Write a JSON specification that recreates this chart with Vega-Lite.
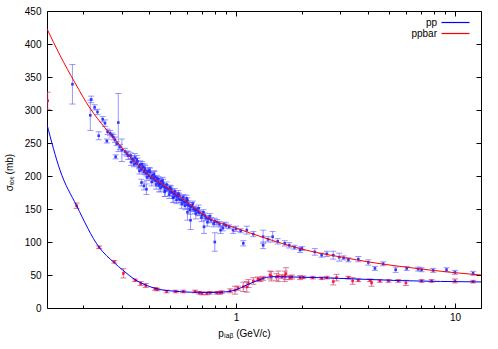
{
  "$schema": "https://vega.github.io/schema/vega-lite/v6.json",
  "width": 434,
  "height": 297,
  "autosize": "none",
  "padding": {"left": 47, "top": 11, "right": 17, "bottom": 41},
  "background": "white",
  "config": {
    "view": {"stroke": "#000000", "strokeWidth": 1},
    "font": "Liberation Sans",
    "axis": {
      "grid": false, "domain": false,
      "labelFont": "Liberation Sans", "labelFontSize": 10, "labelColor": "#000000",
      "tickColor": "#000000", "tickWidth": 1,
      "titleFont": "Liberation Sans", "titleFontSize": 10, "titleFontWeight": "normal", "titleColor": "#000000"
    },
    "legend": {"labelFont": "Liberation Sans", "labelFontSize": 10, "labelColor": "#000000"}
  },
  "datasets": {
    "fitbar": [
      {"p": 0.137, "v": 423, "s": "ppbar"}, {"p": 0.157, "v": 383, "s": "ppbar"}, {"p": 0.184, "v": 341, "s": "ppbar"},
      {"p": 0.215, "v": 303, "s": "ppbar"}, {"p": 0.252, "v": 273, "s": "ppbar"}, {"p": 0.289, "v": 250, "s": "ppbar"},
      {"p": 0.328, "v": 229, "s": "ppbar"}, {"p": 0.364, "v": 214, "s": "ppbar"}, {"p": 0.405, "v": 200, "s": "ppbar"},
      {"p": 0.464, "v": 187, "s": "ppbar"}, {"p": 0.555, "v": 169, "s": "ppbar"}, {"p": 0.617, "v": 157, "s": "ppbar"},
      {"p": 0.685, "v": 145, "s": "ppbar"}, {"p": 0.785, "v": 133, "s": "ppbar"}, {"p": 0.939, "v": 124, "s": "ppbar"},
      {"p": 1.0, "v": 121, "s": "ppbar"}, {"p": 1.328, "v": 107, "s": "ppbar"}, {"p": 1.96, "v": 90, "s": "ppbar"},
      {"p": 2.42, "v": 83, "s": "ppbar"}, {"p": 2.985, "v": 77.5, "s": "ppbar"}, {"p": 4.09, "v": 69.5, "s": "ppbar"},
      {"p": 5.61, "v": 63, "s": "ppbar"}, {"p": 7.69, "v": 57.5, "s": "ppbar"}, {"p": 10, "v": 53.5, "s": "ppbar"},
      {"p": 13.15, "v": 50, "s": "ppbar"}
    ],
    "fitpp": [
      {"p": 0.137, "v": 278, "s": "pp"}, {"p": 0.157, "v": 209, "s": "pp"}, {"p": 0.187, "v": 155, "s": "pp"},
      {"p": 0.237, "v": 92, "s": "pp"}, {"p": 0.277, "v": 69, "s": "pp"}, {"p": 0.305, "v": 57, "s": "pp"},
      {"p": 0.346, "v": 43, "s": "pp"}, {"p": 0.392, "v": 34, "s": "pp"}, {"p": 0.449, "v": 28, "s": "pp"},
      {"p": 0.5, "v": 26, "s": "pp"}, {"p": 0.617, "v": 24, "s": "pp"}, {"p": 0.761, "v": 23.5, "s": "pp"},
      {"p": 0.9, "v": 24.5, "s": "pp"}, {"p": 1.0, "v": 27.5, "s": "pp"}, {"p": 1.12, "v": 35, "s": "pp"},
      {"p": 1.287, "v": 43, "s": "pp"}, {"p": 1.38, "v": 46.5, "s": "pp"}, {"p": 1.52, "v": 47.5, "s": "pp"},
      {"p": 1.82, "v": 47, "s": "pp"}, {"p": 2.69, "v": 45.5, "s": "pp"}, {"p": 5.61, "v": 41.5, "s": "pp"},
      {"p": 13.15, "v": 39.5, "s": "pp"}
    ],
    "up": [
      {"p": 0.179, "v": 339, "e": 30}, {"p": 0.218, "v": 316, "e": 5}, {"p": 0.216, "v": 292, "e": 23},
      {"p": 0.226, "v": 304, "e": 4}, {"p": 0.233, "v": 297, "e": 4}, {"p": 0.236, "v": 261, "e": 6},
      {"p": 0.246, "v": 286, "e": 4}, {"p": 0.252, "v": 280, "e": 5}, {"p": 0.257, "v": 253, "e": 3},
      {"p": 0.259, "v": 267, "e": 4}, {"p": 0.266, "v": 265, "e": 4}, {"p": 0.271, "v": 262, "e": 3},
      {"p": 0.275, "v": 259, "e": 4}, {"p": 0.29, "v": 281, "e": 44}, {"p": 0.28, "v": 255, "e": 4},
      {"p": 0.285, "v": 249, "e": 3}, {"p": 0.282, "v": 229, "e": 3}, {"p": 0.301, "v": 239, "e": 17},
      {"p": 0.295, "v": 244, "e": 4}, {"p": 0.311, "v": 237, "e": 5}, {"p": 0.317, "v": 234, "e": 4},
      {"p": 0.322, "v": 231, "e": 6},
      {"p": 0.33, "v": 231, "e": 4}, {"p": 0.335, "v": 226, "e": 5}, {"p": 0.34, "v": 224, "e": 3},
      {"p": 0.345, "v": 228, "e": 6}, {"p": 0.35, "v": 219, "e": 4}, {"p": 0.355, "v": 222, "e": 5},
      {"p": 0.36, "v": 214, "e": 3}, {"p": 0.365, "v": 217, "e": 6}, {"p": 0.37, "v": 210, "e": 4},
      {"p": 0.37, "v": 190, "e": 5}, {"p": 0.375, "v": 214, "e": 5}, {"p": 0.38, "v": 206, "e": 3},
      {"p": 0.38, "v": 185, "e": 6}, {"p": 0.385, "v": 209, "e": 7}, {"p": 0.39, "v": 204, "e": 4},
      {"p": 0.39, "v": 180, "e": 8}, {"p": 0.395, "v": 207, "e": 5}, {"p": 0.4, "v": 200, "e": 4},
      {"p": 0.405, "v": 206, "e": 6}, {"p": 0.41, "v": 197, "e": 3}, {"p": 0.415, "v": 201, "e": 5},
      {"p": 0.42, "v": 195, "e": 4}, {"p": 0.425, "v": 199, "e": 8}, {"p": 0.43, "v": 193, "e": 5},
      {"p": 0.435, "v": 197, "e": 4}, {"p": 0.44, "v": 190, "e": 6}, {"p": 0.445, "v": 186, "e": 10},
      {"p": 0.45, "v": 188, "e": 4}, {"p": 0.455, "v": 192, "e": 5}, {"p": 0.46, "v": 185, "e": 3},
      {"p": 0.465, "v": 189, "e": 6}, {"p": 0.47, "v": 183, "e": 4}, {"p": 0.475, "v": 178, "e": 9},
      {"p": 0.48, "v": 182, "e": 5}, {"p": 0.49, "v": 180, "e": 4}, {"p": 0.5, "v": 176, "e": 6},
      {"p": 0.5, "v": 183, "e": 3}, {"p": 0.51, "v": 175, "e": 5}, {"p": 0.52, "v": 173, "e": 4},
      {"p": 0.52, "v": 168, "e": 8}, {"p": 0.53, "v": 171, "e": 4}, {"p": 0.54, "v": 169, "e": 6},
      {"p": 0.55, "v": 165, "e": 5}, {"p": 0.55, "v": 171, "e": 3}, {"p": 0.56, "v": 164, "e": 4},
      {"p": 0.57, "v": 163, "e": 7}, {"p": 0.58, "v": 160, "e": 4}, {"p": 0.59, "v": 161, "e": 5},
      {"p": 0.6, "v": 157, "e": 6}, {"p": 0.6, "v": 163, "e": 4}, {"p": 0.6, "v": 145, "e": 12},
      {"p": 0.61, "v": 155, "e": 5}, {"p": 0.62, "v": 153, "e": 4}, {"p": 0.62, "v": 133, "e": 14},
      {"p": 0.63, "v": 154, "e": 6}, {"p": 0.64, "v": 150, "e": 4}, {"p": 0.65, "v": 148, "e": 5},
      {"p": 0.66, "v": 149, "e": 3}, {"p": 0.67, "v": 146, "e": 6}, {"p": 0.68, "v": 144, "e": 4},
      {"p": 0.7, "v": 141, "e": 5}, {"p": 0.714, "v": 123, "e": 10}, {"p": 0.72, "v": 140, "e": 4},
      {"p": 0.73, "v": 136, "e": 3}, {"p": 0.75, "v": 135, "e": 5}, {"p": 0.77, "v": 133, "e": 4},
      {"p": 0.8, "v": 100, "e": 14}, {"p": 0.8, "v": 131, "e": 5}, {"p": 0.82, "v": 130, "e": 4},
      {"p": 0.85, "v": 118, "e": 5}, {"p": 0.87, "v": 121, "e": 4}, {"p": 0.88, "v": 127, "e": 3},
      {"p": 0.9, "v": 125, "e": 4}, {"p": 0.93, "v": 123, "e": 3}, {"p": 0.97, "v": 118, "e": 5},
      {"p": 1.0, "v": 120, "e": 4},
      {"p": 0.332, "v": 221, "e": 5}, {"p": 0.342, "v": 218, "e": 4}, {"p": 0.352, "v": 225, "e": 6},
      {"p": 0.362, "v": 208, "e": 5}, {"p": 0.372, "v": 218, "e": 4}, {"p": 0.382, "v": 212, "e": 6},
      {"p": 0.392, "v": 198, "e": 5}, {"p": 0.402, "v": 209, "e": 4}, {"p": 0.412, "v": 191, "e": 6},
      {"p": 0.422, "v": 203, "e": 5}, {"p": 0.432, "v": 187, "e": 7}, {"p": 0.442, "v": 195, "e": 4},
      {"p": 0.452, "v": 182, "e": 6}, {"p": 0.462, "v": 193, "e": 5}, {"p": 0.472, "v": 176, "e": 7},
      {"p": 0.482, "v": 187, "e": 4}, {"p": 0.495, "v": 172, "e": 6}, {"p": 0.505, "v": 180, "e": 5},
      {"p": 0.515, "v": 167, "e": 7}, {"p": 0.525, "v": 177, "e": 4}, {"p": 0.535, "v": 164, "e": 6},
      {"p": 0.545, "v": 173, "e": 5}, {"p": 0.565, "v": 158, "e": 7}, {"p": 0.575, "v": 168, "e": 4},
      {"p": 0.585, "v": 155, "e": 6}, {"p": 0.595, "v": 166, "e": 5}, {"p": 0.615, "v": 149, "e": 7},
      {"p": 0.635, "v": 158, "e": 4}, {"p": 0.655, "v": 143, "e": 8}, {"p": 0.675, "v": 151, "e": 5},
      {"p": 0.695, "v": 137, "e": 6}, {"p": 0.71, "v": 145, "e": 4}, {"p": 0.74, "v": 130, "e": 6},
      {"p": 0.76, "v": 139, "e": 4}, {"p": 0.79, "v": 128, "e": 5}, {"p": 0.84, "v": 127, "e": 4},
      {"p": 1.05, "v": 117, "e": 3}, {"p": 1.08, "v": 98, "e": 4}, {"p": 1.12, "v": 118, "e": 6},
      {"p": 1.2, "v": 112, "e": 4}, {"p": 1.33, "v": 108, "e": 10}, {"p": 1.33, "v": 95, "e": 5},
      {"p": 1.4, "v": 104, "e": 4}, {"p": 1.47, "v": 108, "e": 8}, {"p": 1.55, "v": 101, "e": 4},
      {"p": 1.67, "v": 98, "e": 4}, {"p": 1.75, "v": 95, "e": 4}, {"p": 1.85, "v": 92, "e": 3},
      {"p": 1.96, "v": 88, "e": 4}, {"p": 2.0, "v": 90, "e": 3}, {"p": 2.29, "v": 85, "e": 5},
      {"p": 2.46, "v": 80, "e": 3}, {"p": 2.6, "v": 82, "e": 4}, {"p": 2.78, "v": 80, "e": 6},
      {"p": 2.96, "v": 77, "e": 6}, {"p": 3.1, "v": 76, "e": 3}, {"p": 3.26, "v": 73, "e": 3},
      {"p": 3.62, "v": 74, "e": 4}, {"p": 4.02, "v": 69, "e": 4}, {"p": 4.31, "v": 60, "e": 3},
      {"p": 4.7, "v": 67, "e": 3}, {"p": 5.36, "v": 58, "e": 4}, {"p": 6.02, "v": 60, "e": 3},
      {"p": 6.79, "v": 59, "e": 3}, {"p": 7.04, "v": 58, "e": 3}, {"p": 7.95, "v": 57, "e": 3},
      {"p": 9.15, "v": 58, "e": 3}, {"p": 10, "v": 54, "e": 3}, {"p": 12.1, "v": 52.5, "e": 3}
    ],
    "lo": [
      {"p": 0.138, "v": 314, "e": 13}, {"p": 0.187, "v": 155, "e": 4}, {"p": 0.237, "v": 92, "e": 2},
      {"p": 0.278, "v": 70, "e": 2}, {"p": 0.306, "v": 52.5, "e": 7}, {"p": 0.346, "v": 42, "e": 2},
      {"p": 0.367, "v": 37, "e": 3}, {"p": 0.387, "v": 34, "e": 3}, {"p": 0.427, "v": 29, "e": 2},
      {"p": 0.437, "v": 28, "e": 2}, {"p": 0.482, "v": 25, "e": 2}, {"p": 0.53, "v": 25, "e": 2},
      {"p": 0.575, "v": 25, "e": 2}, {"p": 0.65, "v": 25, "e": 2}, {"p": 0.68, "v": 23, "e": 2},
      {"p": 0.7, "v": 22, "e": 2}, {"p": 0.735, "v": 22, "e": 2}, {"p": 0.76, "v": 23, "e": 2},
      {"p": 0.816, "v": 23, "e": 2}, {"p": 0.845, "v": 23, "e": 2}, {"p": 0.86, "v": 24, "e": 2},
      {"p": 0.94, "v": 26, "e": 3}, {"p": 0.99, "v": 27, "e": 6}, {"p": 1.02, "v": 30, "e": 3},
      {"p": 1.08, "v": 32, "e": 7}, {"p": 1.12, "v": 32, "e": 8}, {"p": 1.14, "v": 37, "e": 6},
      {"p": 1.2, "v": 41, "e": 5}, {"p": 1.26, "v": 44, "e": 3}, {"p": 1.29, "v": 43, "e": 3},
      {"p": 1.33, "v": 45, "e": 3}, {"p": 1.43, "v": 50, "e": 6}, {"p": 1.45, "v": 48, "e": 7},
      {"p": 1.53, "v": 47, "e": 5}, {"p": 1.56, "v": 48, "e": 8}, {"p": 1.62, "v": 47.5, "e": 3},
      {"p": 1.67, "v": 48, "e": 8}, {"p": 1.69, "v": 52, "e": 9}, {"p": 1.76, "v": 46, "e": 3},
      {"p": 1.8, "v": 47, "e": 3}, {"p": 1.96, "v": 46, "e": 3}, {"p": 2.03, "v": 46.5, "e": 2},
      {"p": 2.24, "v": 46, "e": 2}, {"p": 2.46, "v": 45, "e": 2}, {"p": 2.6, "v": 46, "e": 2},
      {"p": 2.78, "v": 40, "e": 5}, {"p": 2.88, "v": 46, "e": 5}, {"p": 3.26, "v": 46, "e": 2},
      {"p": 3.41, "v": 41, "e": 5}, {"p": 3.62, "v": 42, "e": 2}, {"p": 4.09, "v": 42, "e": 2},
      {"p": 4.16, "v": 38, "e": 5}, {"p": 4.54, "v": 41, "e": 2}, {"p": 4.97, "v": 41, "e": 2},
      {"p": 5.51, "v": 41, "e": 2}, {"p": 5.97, "v": 38, "e": 4}, {"p": 7.04, "v": 41, "e": 2},
      {"p": 7.82, "v": 41, "e": 2}, {"p": 10, "v": 41, "e": 3}, {"p": 12.1, "v": 40, "e": 2}
    ]
  },
  "layer": [
    {
      "data": {"name": "up"},
      "mark": {"type": "errorbar", "ticks": true, "size": 6, "thickness": 1, "color": "#6a6aff", "opacity": 0.7, "clip": true},
      "encoding": {
        "x": {"field": "p", "type": "quantitative", "scale": {"type": "log", "domain": [0.137, 13.15], "nice": false}, "axis": null},
        "y": {"field": "v", "type": "quantitative", "scale": {"domain": [0, 450], "nice": false}, "axis": null},
        "yError": {"field": "e"}
      }
    },
    {
      "data": {"name": "lo"},
      "mark": {"type": "errorbar", "ticks": true, "size": 6, "thickness": 1, "color": "#c8406e", "opacity": 0.7, "clip": true},
      "encoding": {
        "x": {"field": "p", "type": "quantitative", "scale": {"type": "log", "domain": [0.137, 13.15], "nice": false}, "axis": null},
        "y": {"field": "v", "type": "quantitative", "scale": {"domain": [0, 450], "nice": false}, "axis": null},
        "yError": {"field": "e"}
      }
    },
    {
      "data": {"name": "up"},
      "mark": {"type": "point", "shape": "square", "filled": true, "size": 7, "color": "#2020ff", "opacity": 0.85, "clip": true},
      "encoding": {
        "x": {"field": "p", "type": "quantitative", "scale": {"type": "log", "domain": [0.137, 13.15], "nice": false},
              "axis": {"orient": "top", "values": [1, 10], "labels": false, "tickSize": -5, "title": null}},
        "y": {"field": "v", "type": "quantitative", "scale": {"domain": [0, 450], "nice": false},
              "axis": {"orient": "right", "values": [0, 50, 100, 150, 200, 250, 300, 350, 400, 450], "labels": false, "tickSize": -5, "title": null}}
      }
    },
    {
      "data": {"name": "lo"},
      "mark": {"type": "point", "shape": "square", "filled": true, "size": 7, "color": "#ff0a2a", "opacity": 0.9, "clip": true},
      "encoding": {
        "x": {"field": "p", "type": "quantitative", "scale": {"type": "log", "domain": [0.137, 13.15], "nice": false},
              "axis": {"orient": "top", "values": [0.2, 0.3, 0.4, 0.5, 0.6, 0.7, 0.8, 0.9, 2, 3, 4, 5, 6, 7, 8, 9], "labels": false, "tickSize": -3, "title": null}},
        "y": {"field": "v", "type": "quantitative", "scale": {"domain": [0, 450], "nice": false}, "axis": null}
      }
    },
    {
      "data": {"name": "fitpp"},
      "mark": {"type": "line", "interpolate": "monotone", "strokeWidth": 1, "clip": true},
      "encoding": {
        "x": {"field": "p", "type": "quantitative", "scale": {"type": "log", "domain": [0.137, 13.15], "nice": false},
              "axis": {"orient": "bottom", "values": [0.2, 0.3, 0.4, 0.5, 0.6, 0.7, 0.8, 0.9, 2, 3, 4, 5, 6, 7, 8, 9], "labels": false, "tickSize": -3, "title": null}},
        "y": {"field": "v", "type": "quantitative", "scale": {"domain": [0, 450], "nice": false}, "axis": null},
        "color": {"field": "s", "type": "nominal", "scale": {"domain": ["pp", "ppbar"], "range": ["#0000ff", "#ff0000"]},
                  "legend": {"orient": "none", "legendX": 403, "legendY": 6, "title": null, "symbolType": "M-3,0H3", "symbolSize": 87, "symbolStrokeWidth": 1.2,
                             "labelAlign": "right", "labelOffset": -24, "rowPadding": -3, "padding": 0}}
      }
    },
    {
      "data": {"name": "fitbar"},
      "mark": {"type": "line", "interpolate": "monotone", "strokeWidth": 1, "clip": true},
      "encoding": {
        "x": {"field": "p", "type": "quantitative", "scale": {"type": "log", "domain": [0.137, 13.15], "nice": false},
              "axis": {"orient": "bottom", "values": [1, 10], "format": "~g", "tickSize": -5, "labelPadding": 9,
                       "title": "pₗₐᵦ (GeV/c)", "titleX": 197, "titleY": 20, "titleBaseline": "top"}},
        "y": {"field": "v", "type": "quantitative", "scale": {"domain": [0, 450], "nice": false},
              "axis": {"orient": "left", "values": [0, 50, 100, 150, 200, 250, 300, 350, 400, 450], "tickSize": -5, "labelPadding": 11,
                       "title": "σₜₒₜ (mb)", "titleX": -33, "titleY": 161}},
        "color": {"field": "s", "type": "nominal", "scale": {"domain": ["pp", "ppbar"], "range": ["#0000ff", "#ff0000"]},
                  "legend": {"orient": "none", "legendX": 403, "legendY": 6, "title": null, "symbolType": "M-3,0H3", "symbolSize": 87, "symbolStrokeWidth": 1.2,
                             "labelAlign": "right", "labelOffset": -24, "rowPadding": -3, "padding": 0}}
      }
    }
  ],
  "resolve": {"axis": {"x": "independent", "y": "independent"}}
}
